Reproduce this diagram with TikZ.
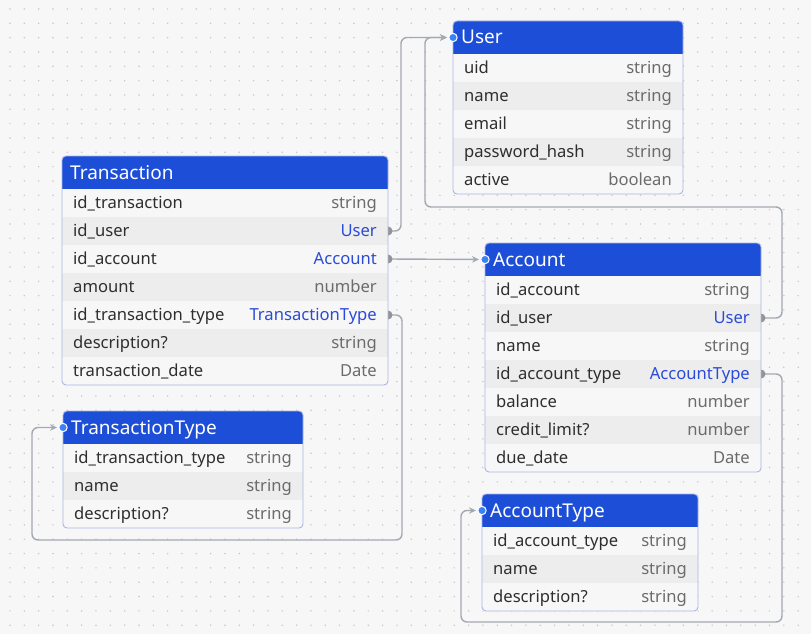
\documentclass[tikz,border=0pt]{standalone}
\usepackage{fontspec}
\setmainfont{Noto Sans}
\usetikzlibrary{arrows.meta, positioning, backgrounds, calc}
\definecolor{canvas}{HTML}{F7F7F7}
\definecolor{griddot}{HTML}{C9C9C9}
\definecolor{hdrblue}{HTML}{1D4ED8}
\definecolor{linkblue}{HTML}{2B4BD6}
\definecolor{row0}{HTML}{EDEDED}
\definecolor{row1}{HTML}{F7F7F7}
\definecolor{frameblue}{HTML}{A9B5E2}
\definecolor{relgray}{HTML}{A4A9B1}
\definecolor{dotblue}{HTML}{3B82F6}
\newcommand{\lnk}[1]{\textcolor{linkblue}{#1}}

\begin{document}
\begin{tikzpicture}[x=1pt, y=-1pt,
    tblhead/.style={fill=hdrblue, rounded corners=4pt, anchor=north west, minimum height=33pt, inner sep=0pt, outer sep=0pt},
    hdrtxt/.style={text=white, inner sep=0pt, text height=13pt, text depth=0pt, font=\fontsize{19}{22}\selectfont},
    tblrow/.style={anchor=north west, minimum height=28pt, inner sep=0pt, outer sep=0pt},
    fieldtxt/.style={text=black!82, inner sep=0pt, text height=11.6pt, text depth=0pt, font=\fontsize{16.6}{20}\selectfont},
    typetxt/.style={fieldtxt, text=black!58},
    tblframe/.style={draw=frameblue, line width=0.9pt, rounded corners=4pt},
    relline/.style={draw=relgray, line width=1.4pt, rounded corners=6pt, -{Stealth[length=7pt, width=6.5pt]}, shorten >=6pt},
    srcdot/.style={fill=black!42},
    dstdot/.style={fill=dotblue, draw=white, line width=1pt}]

    % Canvas and dot grid
    \useasboundingbox (0,0) rectangle (811,634);
    \begin{scope}[on background layer]
    \fill[canvas] (0,0) rectangle (811,634);
    \foreach \gx in {0,...,56}
      \foreach \gy in {0,...,43}
        \fill[griddot] (10+14.33*\gx, 9+14.33*\gy) circle (0.85pt);
    \end{scope}

    % User
    \node[tblhead, minimum width=230pt] (user) at (453,21) {};
    \fill[hdrblue] ([yshift=5pt]user.south west) rectangle (user.south east);
    \node[hdrtxt, right=8pt of user.west] (user-title) {User};
    \foreach \f/\t [count=\i] in {uid/string, name/string, email/string, password\_hash/string, active/boolean} {
      \pgfmathtruncatemacro\c{mod(\i,2)}
      \node[tblrow, fill=row\c, minimum width=230pt] (user-\i) at (453,26+28*\i) {};
      \node[fieldtxt, right=11pt of user-\i.west] (user-\i-f) {\f};
      \node[typetxt, left=11pt of user-\i.east] (user-\i-t) {\t};
    }
    \draw[tblframe] (user.north west) rectangle (user-5.south east);

    % Transaction
    \node[tblhead, minimum width=326pt] (txn) at (62,156) {};
    \fill[hdrblue] ([yshift=5pt]txn.south west) rectangle (txn.south east);
    \node[hdrtxt, right=8pt of txn.west] (txn-title) {Transaction};
    \foreach \f/\t [count=\i] in {id\_transaction/string, id\_user/\lnk{User}, id\_account/\lnk{Account}, amount/number,
        id\_transaction\_type/\lnk{TransactionType}, description?/string, transaction\_date/Date} {
      \pgfmathtruncatemacro\c{mod(\i,2)}
      \node[tblrow, fill=row\c, minimum width=326pt] (txn-\i) at (62,161+28*\i) {};
      \node[fieldtxt, right=11pt of txn-\i.west] (txn-\i-f) {\f};
      \node[typetxt, left=11pt of txn-\i.east] (txn-\i-t) {\t};
    }
    \draw[tblframe] (txn.north west) rectangle (txn-7.south east);

    % Account
    \node[tblhead, minimum width=276pt] (acc) at (485,243) {};
    \fill[hdrblue] ([yshift=5pt]acc.south west) rectangle (acc.south east);
    \node[hdrtxt, right=8pt of acc.west] (acc-title) {Account};
    \foreach \f/\t [count=\i] in {id\_account/string, id\_user/\lnk{User}, name/string, id\_account\_type/\lnk{AccountType},
        balance/number, credit\_limit?/number, due\_date/Date} {
      \pgfmathtruncatemacro\c{mod(\i,2)}
      \node[tblrow, fill=row\c, minimum width=276pt] (acc-\i) at (485,248+28*\i) {};
      \node[fieldtxt, right=11pt of acc-\i.west] (acc-\i-f) {\f};
      \node[typetxt, left=11pt of acc-\i.east] (acc-\i-t) {\t};
    }
    \draw[tblframe] (acc.north west) rectangle (acc-7.south east);

    % TransactionType
    \node[tblhead, minimum width=240pt] (ttype) at (63,411) {};
    \fill[hdrblue] ([yshift=5pt]ttype.south west) rectangle (ttype.south east);
    \node[hdrtxt, right=8pt of ttype.west] (ttype-title) {TransactionType};
    \foreach \f/\t [count=\i] in {id\_transaction\_type/string, name/string, description?/string} {
      \pgfmathtruncatemacro\c{mod(\i,2)}
      \node[tblrow, fill=row\c, minimum width=240pt] (ttype-\i) at (63,416+28*\i) {};
      \node[fieldtxt, right=11pt of ttype-\i.west] (ttype-\i-f) {\f};
      \node[typetxt, left=11pt of ttype-\i.east] (ttype-\i-t) {\t};
    }
    \draw[tblframe] (ttype.north west) rectangle (ttype-3.south east);

    % AccountType
    \node[tblhead, minimum width=216pt] (atype) at (482,494) {};
    \fill[hdrblue] ([yshift=5pt]atype.south west) rectangle (atype.south east);
    \node[hdrtxt, right=8pt of atype.west] (atype-title) {AccountType};
    \foreach \f/\t [count=\i] in {id\_account\_type/string, name/string, description?/string} {
      \pgfmathtruncatemacro\c{mod(\i,2)}
      \node[tblrow, fill=row\c, minimum width=216pt] (atype-\i) at (482,499+28*\i) {};
      \node[fieldtxt, right=11pt of atype-\i.west] (atype-\i-f) {\f};
      \node[typetxt, left=11pt of atype-\i.east] (atype-\i-t) {\t};
    }
    \draw[tblframe] (atype.north west) rectangle (atype-3.south east);

    % Relations (behind the tables)
    \coordinate (userbend) at (425,207);
    \coordinate (ttbend) at (32,540);
    \coordinate (atbend) at (461,622);
    \begin{scope}[on background layer]
    \draw[relline] (txn-2.east) -- ++(13,0) |- (user.west);
    \draw[relline] (acc-2.east) -- ++(21,0) |- (userbend) |- (user.west);
    \draw[relline] (txn-3.east) -- (acc.west);
    \draw[relline] (txn-5.east) -- ++(14,0) |- (ttbend) |- (ttype.west);
    \draw[relline] (acc-4.east) -- ++(21,0) |- (atbend) |- (atype.west);
    \foreach \s in {txn-2, txn-3, txn-5, acc-2, acc-4}
      \fill[srcdot] (\s.east) circle (4.5pt);
    \end{scope}

    % Target ends
    \foreach \d in {user, acc, ttype, atype}
      \filldraw[dstdot] (\d.west) circle (4.2pt);
\end{tikzpicture}
\end{document}
